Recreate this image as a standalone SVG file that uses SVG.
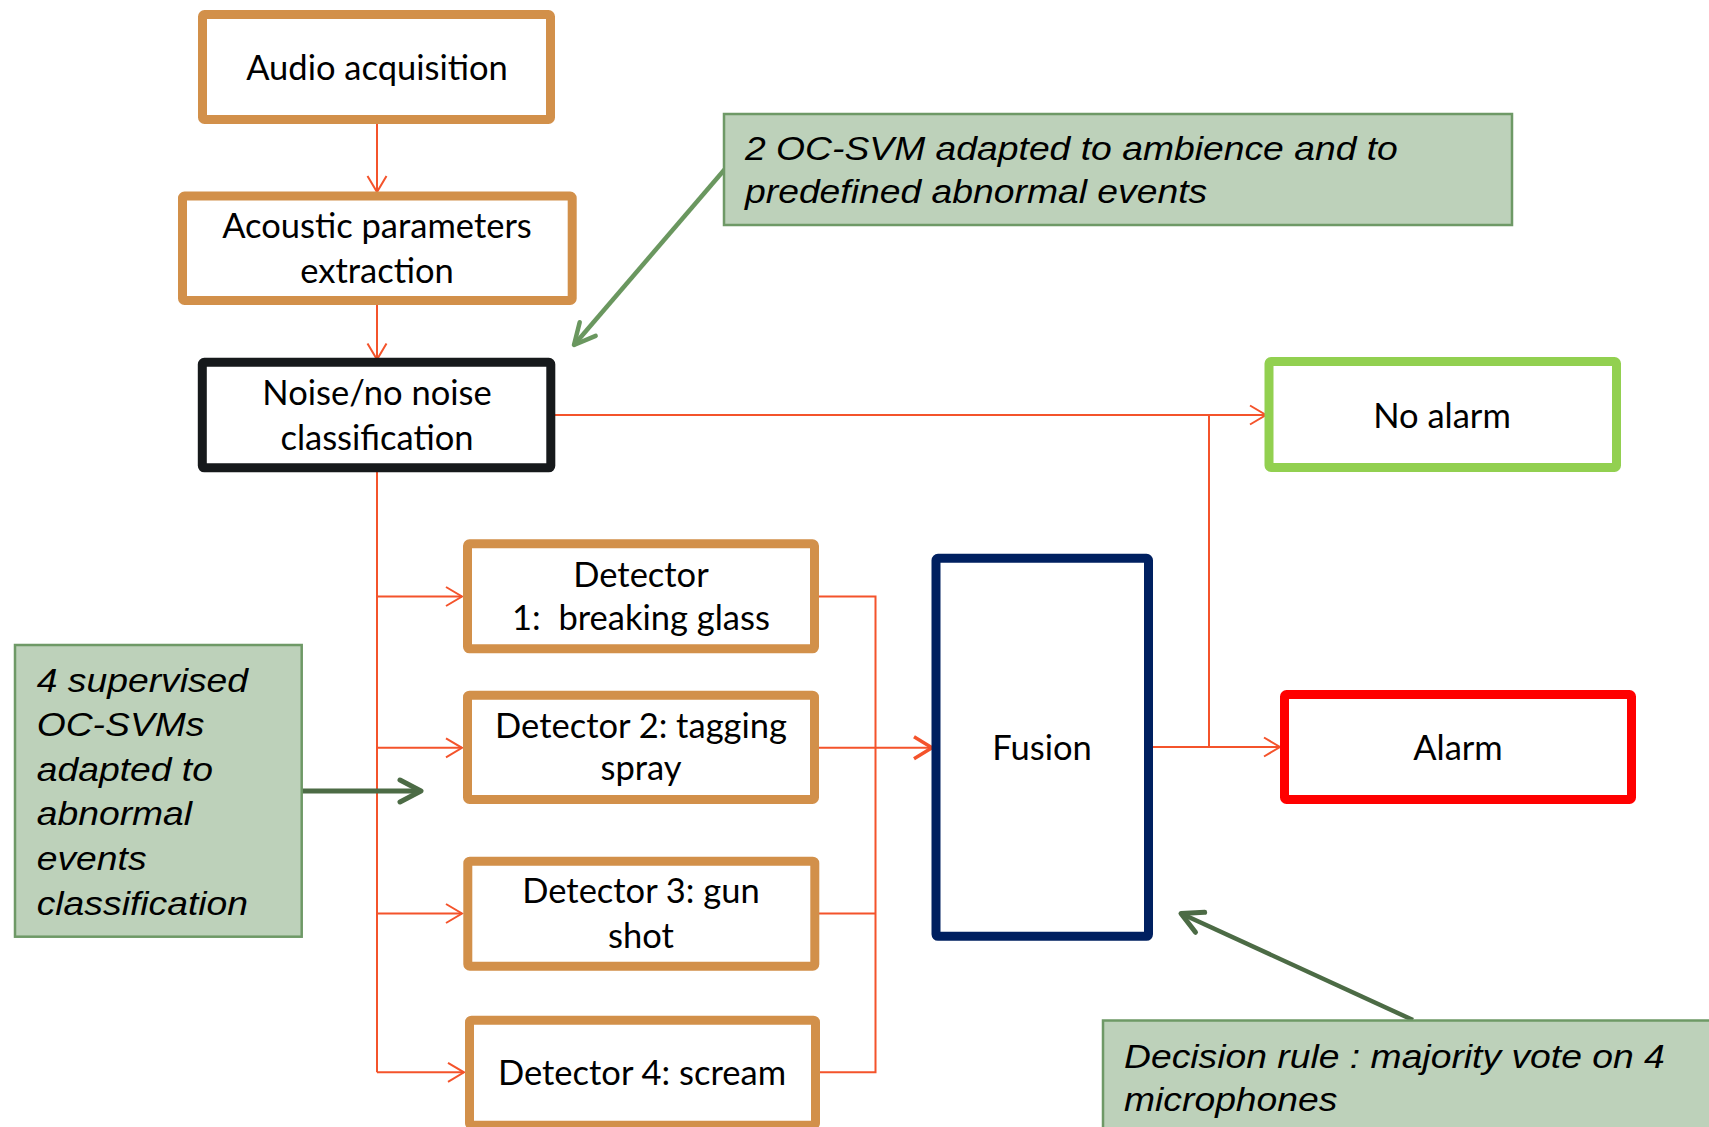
<svg xmlns="http://www.w3.org/2000/svg" width="1709" height="1127" viewBox="0 0 1709 1127">
<style>
.box{fill:#fff;stroke-width:9;}
.orange{stroke:#D2904A;}
.lbl{font-family:Lato,"Open Sans",sans-serif;font-size:34.5px;fill:#000;text-anchor:middle;white-space:pre;}
.note{fill:#BDD1BA;stroke:#6E9966;stroke-width:2.5;}
.nt{font-family:"Liberation Sans",Arial,sans-serif;font-style:italic;font-size:33px;fill:#000;}
.red{fill:none;stroke:#F4532B;stroke-width:2;}
</style>
<defs>
<marker id="ar" markerUnits="userSpaceOnUse" orient="auto" refX="0" refY="0" markerWidth="24" markerHeight="26" viewBox="-20 -13 24 26" overflow="visible">
<path d="M-16,-9.5 L0,0 L-16,9.5" fill="none" stroke="#F4532B" stroke-width="2"/>
</marker>
<marker id="arT" markerUnits="userSpaceOnUse" orient="auto" refX="0" refY="0" markerWidth="24" markerHeight="28" viewBox="-20 -14 24 28" overflow="visible">
<path d="M-18,-11 L0,0 L-18,11" fill="none" stroke="#F4532B" stroke-width="3.5"/>
</marker>
<marker id="agL" markerUnits="userSpaceOnUse" orient="auto" refX="0" refY="0" markerWidth="30" markerHeight="30" viewBox="-26 -15 30 30" overflow="visible">
<path d="M-21,-10.5 L0,0 L-21,10.5" fill="none" stroke="#6A975F" stroke-width="4.5" stroke-linecap="round" stroke-linejoin="round"/>
</marker>
<marker id="agD" markerUnits="userSpaceOnUse" orient="auto" refX="0" refY="0" markerWidth="30" markerHeight="30" viewBox="-26 -15 30 30" overflow="visible">
<path d="M-21,-11 L0,0 L-21,11" fill="none" stroke="#4C6B45" stroke-width="5" stroke-linecap="round" stroke-linejoin="round"/>
</marker>
</defs>
<rect width="1709" height="1127" fill="#fff"/>

<g id="connectors">
<path class="red" d="M377,124 V192" marker-end="url(#ar)"/>
<path class="red" d="M377,305 V359.5" marker-end="url(#ar)"/>
<path class="red" d="M555,415 H1266" marker-end="url(#ar)"/>
<path class="red" d="M377,472 V1072.3"/>
<path class="red" d="M377,596.5 H462" marker-end="url(#ar)"/>
<path class="red" d="M377,747.8 H462" marker-end="url(#ar)"/>
<path class="red" d="M377,913.5 H462" marker-end="url(#ar)"/>
<path class="red" d="M377,1072.3 H464" marker-end="url(#ar)"/>
<path class="red" d="M819,596.5 H875.5 V1072.3 H820"/>
<path class="red" d="M819,913.5 H875.5"/>
<path class="red" d="M819,747.8 H875.5"/>
<path class="red" d="M875.5,747.8 H932" stroke-width="3.5" marker-end="url(#arT)"/>
<path class="red" d="M1152,747 H1280" marker-end="url(#ar)"/>
<path class="red" d="M1209,415 V747"/>
<path d="M725,169 L574,345" fill="none" stroke="#6A975F" stroke-width="4.5" marker-end="url(#agL)"/>
<path d="M302,791 L421,791" fill="none" stroke="#4C6B45" stroke-width="5" marker-end="url(#agD)"/>
<path d="M1413,1020 L1181,913.5" fill="none" stroke="#4C6B45" stroke-width="4.5" marker-end="url(#agD)"/>
</g>

<g id="audio">
<rect class="box orange" x="202.5" y="14.5" width="348" height="105" rx="2"/>
<text class="lbl" x="377" y="80">Audio acquisition</text>
</g>
<g id="acoustic">
<rect class="box orange" x="182.5" y="196" width="389.7" height="104.5" rx="2"/>
<text class="lbl" x="377" y="238">Acoustic parameters</text>
<text class="lbl" x="377" y="283">extraction</text>
</g>
<g id="noise">
<rect class="box" stroke="#16191B" stroke-width="8.5" x="202.3" y="362.3" width="348.5" height="105.5" rx="2"/>
<text class="lbl" x="377" y="405">Noise/no noise</text>
<text class="lbl" x="377" y="450">classification</text>
</g>
<g id="det1">
<rect class="box orange" x="467.5" y="543.8" width="347" height="105" rx="2"/>
<text class="lbl" x="641" y="587">Detector</text>
<text class="lbl" x="641" y="630">1:  breaking glass</text>
</g>
<g id="det2">
<rect class="box orange" x="467.5" y="695.2" width="347" height="104.3" rx="2"/>
<text class="lbl" x="641" y="738">Detector 2: tagging</text>
<text class="lbl" x="641" y="780">spray</text>
</g>
<g id="det3">
<rect class="box orange" x="467.8" y="861.2" width="347" height="105" rx="2"/>
<text class="lbl" x="641" y="903">Detector 3: gun</text>
<text class="lbl" x="641" y="948">shot</text>
</g>
<g id="det4">
<rect class="box orange" x="469.5" y="1020.2" width="346" height="105" rx="2"/>
<text class="lbl" x="642" y="1085">Detector 4: scream</text>
</g>
<g id="fusion">
<rect class="box" stroke="#002060" stroke-width="8.5" x="936" y="558.3" width="212.5" height="378" rx="2"/>
<text class="lbl" x="1042" y="760">Fusion</text>
</g>
<g id="noalarm">
<rect class="box" stroke="#92D050" stroke-width="8.5" x="1269" y="361.5" width="347.5" height="106" rx="2"/>
<text class="lbl" x="1442" y="428">No alarm</text>
</g>
<g id="alarm">
<rect class="box" stroke="#FF0000" stroke-width="9" x="1284.5" y="694.5" width="347" height="105" rx="2"/>
<text class="lbl" x="1458" y="760">Alarm</text>
</g>

<g id="note1">
<rect class="note" x="724" y="114" width="788" height="111"/>
<g transform="translate(745,0) scale(1.13,1)">
<text class="nt" x="0" y="160">2 OC-SVM adapted to ambience and to</text>
<text class="nt" x="0" y="203">predefined abnormal events</text>
</g>
</g>
<g id="note2">
<rect class="note" x="15" y="645" width="286.7" height="291.7"/>
<g transform="translate(36.7,0) scale(1.13,1)">
<text class="nt" x="0" y="691.7">4 supervised</text>
<text class="nt" x="0" y="736">OC-SVMs</text>
<text class="nt" x="0" y="780.7">adapted to</text>
<text class="nt" x="0" y="825">abnormal</text>
<text class="nt" x="0" y="870">events</text>
<text class="nt" x="0" y="915">classification</text>
</g>
</g>
<g id="note3">
<rect class="note" x="1103" y="1020.5" width="620" height="120"/>
<g transform="translate(1124,0) scale(1.13,1)">
<text class="nt" x="0" y="1068">Decision rule : majority vote on 4</text>
<text class="nt" x="0" y="1111">microphones</text>
</g>
</g>
</svg>
